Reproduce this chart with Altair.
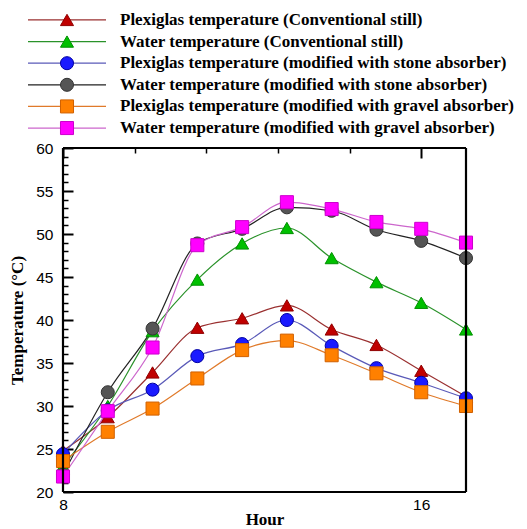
import altair as alt
import pandas as pd

hours = [8, 9, 10, 11, 12, 13, 14, 15, 16, 17]
series = [
    "Plexiglas temperature (Conventional still)",
    "Water temperature (Conventional still)",
    "Plexiglas temperature (modified with stone absorber)",
    "Water temperature (modified with stone absorber)",
    "Plexiglas temperature (modified with gravel absorber)",
    "Water temperature (modified with gravel absorber)",
]
plexi_conv = [24.8, 28.7, 33.9, 39.1, 40.2, 41.7, 38.9, 37.1, 34.1, 31.1]
water_conv = [23.0, 30.0, 38.7, 44.7, 48.9, 50.7, 47.2, 44.4, 42.0, 38.9]
plexi_stone = [24.4, 29.5, 31.9, 35.8, 37.2, 40.0, 37.0, 34.4, 32.7, 30.9]
water_stone = [22.0, 31.6, 39.0, 48.9, 50.6, 53.1, 52.7, 50.5, 49.2, 47.2]
plexi_gravel = [23.6, 27.0, 29.7, 33.2, 36.5, 37.6, 35.9, 33.8, 31.6, 30.0]
water_gravel = [21.8, 29.4, 36.8, 48.7, 50.8, 53.7, 52.9, 51.4, 50.6, 49.0]
values = [plexi_conv, water_conv, plexi_stone, water_stone, plexi_gravel, water_gravel]

y_ticks = list(range(20, 61))
x_ticks = [round(8 + 0.2 * i, 1) for i in range(46)]
x_lo, x_hi = 8, 17
y_lo, y_hi = 20, 60

W, H = 403, 344

rows = []
for name, vals in zip(series, values):
    for h, v in zip(hours, vals):
        rows.append({"series": name, "hour": h, "temp": v})
df = pd.DataFrame(rows)
leg_df = pd.DataFrame({"series": series})
one = pd.DataFrame({"k": [0]})

line_colors = ["#9a3030", "#2a922a", "#5a5ab8", "#222222", "#e07a2a", "#cc66cc"]
fill_colors = ["#c00000", "#00c000", "#1a1aff", "#555555", "#ff8000", "#ff00ff"]
edge_colors = ["#900000", "#009000", "#0000a0", "#333333", "#d06000", "#cc00cc"]
shapes = ["triangle-up", "triangle-up", "circle", "circle", "square", "square"]
sizes = [170, 170, 225, 225, 130, 135]

color_scale = alt.Scale(domain=series, range=line_colors)
fill_scale = alt.Scale(domain=series, range=fill_colors)
stroke_scale = alt.Scale(domain=series, range=edge_colors)
shape_scale = alt.Scale(domain=series, range=shapes)
size_scale = alt.Scale(domain=series, range=sizes)

x_scale = alt.Scale(domain=[x_lo, x_hi], nice=False, zero=False)
y_scale = alt.Scale(domain=[y_lo, y_hi], nice=False, zero=False)

LAB = dict(labelFont="Liberation Sans", labelFontSize=15.5, labelColor="black", labelOverlap=False)
TIT = dict(titleFont="Liberation Serif", titleFontSize=17, titleFontWeight="bold", titleColor="black")

X_MAJOR = "abs(datum.value - round(datum.value)) < 0.001"
Y_MAJOR = "datum.value % 5 === 0"

x_axis = alt.Axis(
    orient="bottom", values=x_ticks, ticks=False, tickSize=0, domain=False, format="d",
    grid=True, gridColor="black", gridOpacity=1, gridCap="butt",
    gridDash={"condition": {"test": X_MAJOR, "value": [10, 2000]}, "value": [5, 2000]},
    gridWidth={"condition": {"test": X_MAJOR, "value": 2}, "value": 1.5},
    labelExpr=X_MAJOR + " ? datum.label : ''",
    labelPadding=5, labelFlush=False, title="Hour", titlePadding=-1, **LAB, **TIT,
)
y_axis = alt.Axis(
    orient="left", values=y_ticks, ticks=False, tickSize=0, domain=False, format="d",
    grid=True, gridColor="black", gridOpacity=1, gridCap="butt",
    gridDash={"condition": {"test": Y_MAJOR, "value": [10, 2000]}, "value": [5, 2000]},
    gridWidth={"condition": {"test": Y_MAJOR, "value": 2}, "value": 1.5},
    labelExpr=Y_MAJOR + " ? datum.label : ''",
    labelPadding=10, title="Temperature (°C)", titlePadding=9, **LAB, **TIT,
)

lines = alt.Chart(df).mark_line(interpolate="monotone", strokeWidth=1.2).encode(
    x=alt.X("hour:Q", scale=x_scale, axis=x_axis),
    y=alt.Y("temp:Q", scale=y_scale, axis=y_axis),
    color=alt.Color("series:N", scale=color_scale, legend=None),
)

points = alt.Chart(df).mark_point(filled=True, strokeWidth=1, opacity=1).encode(
    x=alt.X("hour:Q", scale=x_scale, axis=x_axis),
    y=alt.Y("temp:Q", scale=y_scale, axis=y_axis),
    shape=alt.Shape("series:N", scale=shape_scale, legend=None),
    fill=alt.Fill("series:N", scale=fill_scale, legend=None),
    stroke=alt.Stroke("series:N", scale=stroke_scale, legend=None),
    size=alt.Size("series:N", scale=size_scale, legend=None),
    order=alt.Order("idx:Q"),
).transform_calculate(idx="indexof(" + str(series) + ", datum.series)")


def xd(v):
    return alt.XDatum(v, type="quantitative", scale=x_scale, axis=x_axis)


def yd(v):
    return alt.YDatum(v, type="quantitative", scale=y_scale, axis=y_axis)


fbase = alt.Chart(one).mark_rule(color="black", strokeWidth=2.2)
frame_h = [fbase.encode(x=xd(x_lo), x2=alt.X2Datum(x_hi), y=yd(yv)) for yv in (y_lo, y_hi)]
frame_v = [fbase.encode(x=xd(xv), y=yd(y_lo), y2=alt.Y2Datum(y_hi)) for xv in (x_lo, x_hi)]

main = alt.layer(lines, points, *frame_h, *frame_v).properties(width=W, height=H)

leg_y = alt.Y("series:N", sort=series, axis=None,
              scale=alt.Scale(type="point", domain=series, padding=0.923))
leg_base = alt.Chart(leg_df).encode(y=leg_y)
leg_lines = leg_base.mark_rule(strokeWidth=1.2).encode(
    x=alt.value(-35), x2=alt.value(43),
    color=alt.Color("series:N", scale=color_scale, legend=None),
)
leg_points = leg_base.mark_point(filled=True, strokeWidth=1, opacity=1).encode(
    x=alt.value(4),
    shape=alt.Shape("series:N", scale=shape_scale, legend=None),
    fill=alt.Fill("series:N", scale=fill_scale, legend=None),
    stroke=alt.Stroke("series:N", scale=stroke_scale, legend=None),
    size=alt.Size("series:N", scale=size_scale, legend=None),
)
leg_text = leg_base.mark_text(align="left", baseline="middle", font="Liberation Serif",
                              fontSize=17, fontWeight="bold", color="black").encode(
    x=alt.value(57), text="series:N"
)
legend = alt.layer(leg_lines, leg_points, leg_text).properties(width=W, height=148)

chart = alt.vconcat(legend, main, spacing=0, bounds="flush").configure_view(
    stroke=None
).properties(padding={"left": 8, "top": 0, "right": 5, "bottom": 0})

chart.save("out.html", embed_options={"renderer": "svg", "actions": False})
